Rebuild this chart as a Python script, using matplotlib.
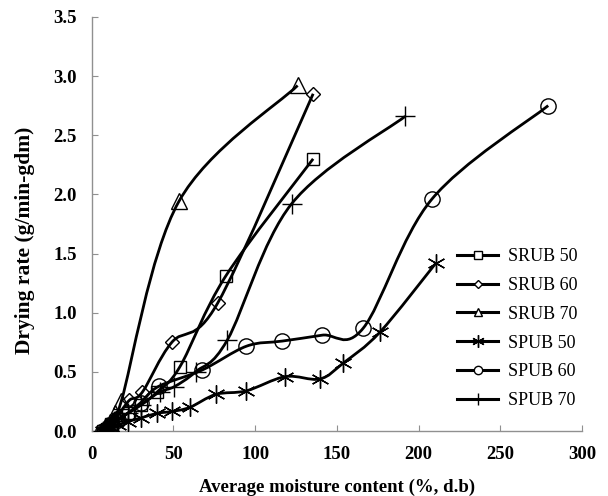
import matplotlib
matplotlib.use("Agg")
import matplotlib.pyplot as plt
import numpy as np
from matplotlib.path import Path
from matplotlib.patches import PathPatch
from matplotlib.lines import Line2D

plt.rcParams['font.family'] = ['Liberation Serif', 'DejaVu Serif']

# Data (average moisture content %, drying rate g/min-gdm)
srub50_x = [7, 9, 12, 16, 22, 30, 40, 54, 82, 135.5]
srub50_y = [0.0, 0.02, 0.06, 0.10, 0.15, 0.22, 0.33, 0.545, 1.31, 2.30]

srub60_x = [7, 9, 12, 16, 23, 31, 49, 77, 135.5]
srub60_y = [0.0, 0.03, 0.07, 0.13, 0.26, 0.33, 0.75, 1.08, 2.85]

srub70_x = [6, 8, 11, 14, 18, 53.3, 126]
srub70_y = [0.0, 0.03, 0.08, 0.15, 0.25, 1.94, 2.92]

spub50_x = [7, 9, 12, 16, 22, 30, 40, 48.8, 60, 76, 94.7, 118.5, 139.6, 153.9, 176.4, 210.7]
spub50_y = [0.0, 0.01, 0.03, 0.05, 0.08, 0.11, 0.15, 0.165, 0.20, 0.31, 0.34, 0.46, 0.44, 0.574, 0.836, 1.42]

spub60_x = [7, 9, 12, 16, 22, 30, 41, 67.5, 94.7, 116.5, 141, 166.2, 208.2, 279.4]
spub60_y = [0.0, 0.02, 0.05, 0.09, 0.15, 0.24, 0.378, 0.515, 0.717, 0.76, 0.81, 0.87, 1.96, 2.75]

spub70_x = [7, 9, 12, 16, 22, 30, 41.6, 50.5, 63.5, 83, 122.3, 191.9]
spub70_y = [0.0, 0.03, 0.06, 0.10, 0.15, 0.22, 0.33, 0.375, 0.50, 0.77, 1.92, 2.66]

series = [
    ("SRUB 50", srub50_x, srub50_y, 's', 8, 6),
    ("SRUB 60", srub60_x, srub60_y, 'D', 7, 4),
    ("SRUB 70", srub70_x, srub70_y, '^', 11, 6),
    ("SPUB 50", spub50_x, spub50_y, (6, 2, 0), 13, 9),
    ("SPUB 60", spub60_x, spub60_y, 'o', 11, 6),
    ("SPUB 70", spub70_x, spub70_y, '+', 14, 9),
]


def smooth_path(x, y):
    pts = np.column_stack([x, y]).astype(float)
    n = len(pts)
    verts = [pts[0]]
    codes = [Path.MOVETO]
    for i in range(n - 1):
        p0 = pts[i - 1] if i > 0 else pts[i]
        p1 = pts[i]
        p2 = pts[i + 1]
        p3 = pts[i + 2] if i + 2 < n else pts[i + 1]
        c1 = p1 + (p2 - p0) / 6.0
        c2 = p2 - (p3 - p1) / 6.0
        verts += [c1, c2, p2]
        codes += [Path.CURVE4] * 3
    return Path(verts, codes)


fig = plt.figure(figsize=(6.08, 4.96), dpi=100)
ax = fig.add_axes([0.151, 0.131, 0.806, 0.835])

handles = []
for label, xs, ys, mk, ms, lms in series:
    patch = PathPatch(smooth_path(xs, ys), facecolor='none', edgecolor='black',
                      lw=2.0, zorder=2)
    ax.add_patch(patch)
    ax.plot(xs, ys, linestyle='none', marker=mk, markersize=ms,
            markerfacecolor='none', markeredgecolor='black',
            markeredgewidth=1.0, zorder=3)
    handles.append(Line2D([], [], color='black', lw=2.2, marker=mk,
                          markersize=lms, markerfacecolor='white',
                          markeredgecolor='black', markeredgewidth=1.0,
                          label=label))

ax.set_xlim(0, 300)
ax.set_ylim(0, 3.5)
ax.set_xticks([0, 50, 100, 150, 200, 250, 300])
ax.set_yticks([0.0, 0.5, 1.0, 1.5, 2.0, 2.5, 3.0, 3.5])
ax.yaxis.set_major_formatter(matplotlib.ticker.FormatStrFormatter('%.1f'))

for s in ['top', 'right']:
    ax.spines[s].set_visible(False)
for s in ['left', 'bottom']:
    ax.spines[s].set_color('#909090')
    ax.spines[s].set_linewidth(1.0)
ax.tick_params(direction='in', length=4, color='#909090', labelsize=13.5)
ax.tick_params(axis='y', pad=11)
ax.tick_params(axis='x', pad=11)
for lab in ax.get_xticklabels() + ax.get_yticklabels():
    lab.set_fontweight('bold')

ax.set_xlabel('Average moisture content (%, d.b)', fontsize=13.5, fontweight='bold')
ax.set_ylabel('Drying rate (g/min-gdm)', fontsize=15.5, fontweight='bold')
ax.xaxis.set_label_coords(0.5, -0.135)
ax.yaxis.set_label_coords(-0.137, 0.46)
ax.xaxis.label.set_va('center')
ax.yaxis.label.set_va('center')

leg = ax.legend(handles=handles, loc='lower left', bbox_to_anchor=(0.712, 0.014),
                frameon=False, fontsize=13, handlelength=2.3, handletextpad=0.5,
                labelspacing=0.65)

fig.savefig('out.png', dpi=100)
